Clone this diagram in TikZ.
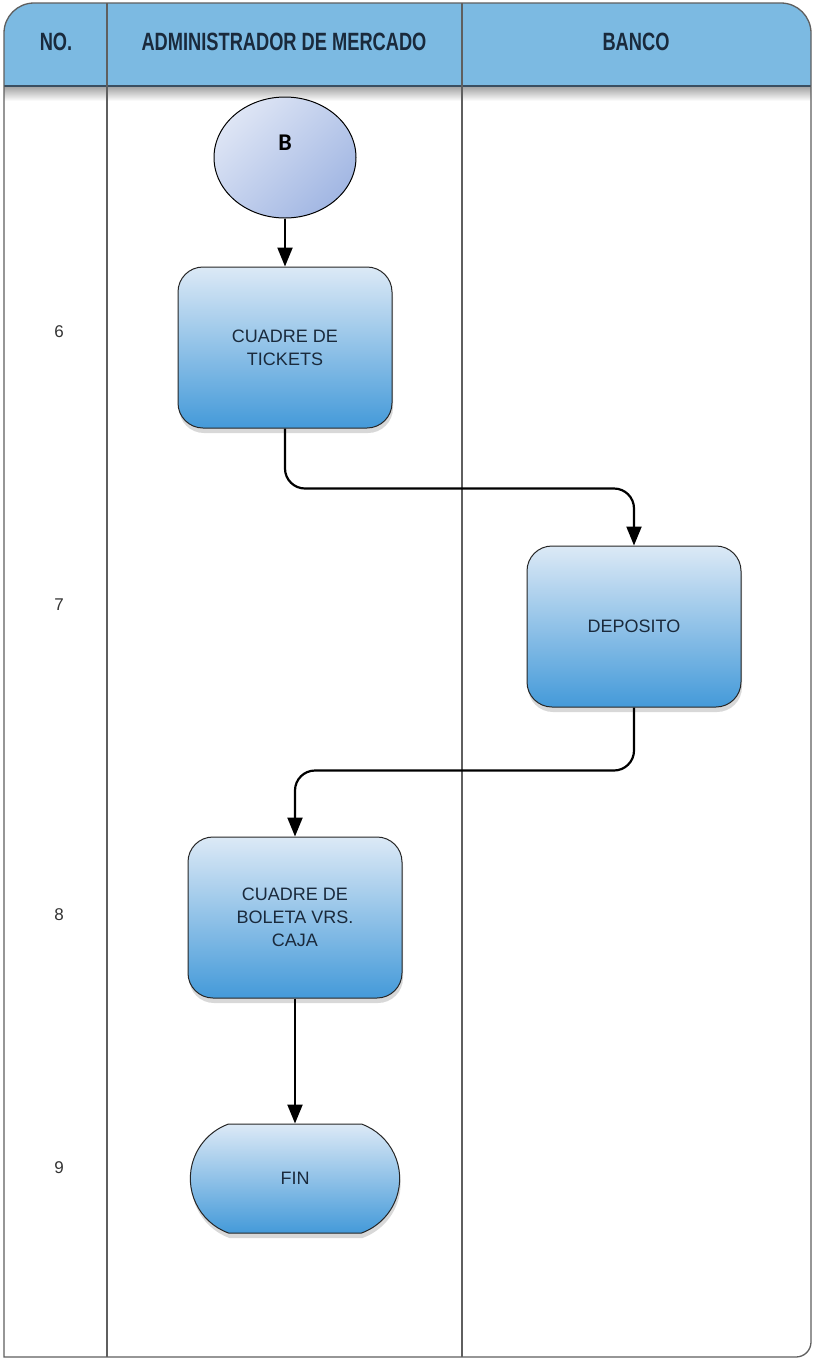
\documentclass[tikz,border=0pt]{standalone}
\usepackage{fontspec}
\setmainfont{Liberation Sans}
\newfontfamily\headfont[FakeStretch=0.73]{Liberation Sans}
\newfontfamily\carlito{Carlito}
\usetikzlibrary{
	arrows.meta,
	shapes.geometric,
	shapes.misc,
	shadows,
	positioning,
	calc
}
\definecolor{hdrblue}{RGB}{124,186,226}
\definecolor{hdrline}{RGB}{58,78,96}
\definecolor{boxtop}{RGB}{220,233,246}
\definecolor{boxbot}{RGB}{68,154,217}
\definecolor{circtop}{RGB}{222,229,245}
\definecolor{circbot}{RGB}{162,183,227}
\definecolor{txtdark}{RGB}{26,42,60}
\definecolor{framegray}{RGB}{95,95,95}

\tikzset{
	procbox/.style={draw=black!85, line width=1pt, rounded corners=25pt,
		minimum width=214pt, minimum height=161pt,
		top color=boxtop, bottom color=boxbot,
		drop shadow={opacity=0.3, shadow xshift=1pt, shadow yshift=-5pt},
		align=center, text=txtdark, font=\fontsize{18}{23}\selectfont},
	endbox/.style={draw=black!85, line width=1pt, rounded rectangle,
		rounded rectangle arc length=140,
		minimum width=216pt, minimum height=109pt,
		top color=boxtop, bottom color=boxbot,
		drop shadow={opacity=0.3, shadow xshift=1pt, shadow yshift=-5pt},
		text=txtdark, font=\fontsize{18}{23}\selectfont},
	startcirc/.style={draw=black, line width=1pt, ellipse,
		minimum width=142pt, minimum height=121pt,
		top color=circtop, bottom color=circbot, shading angle=45},
	conn/.style={line width=2.2pt, rounded corners=20pt,
		-{Triangle[length=19pt,width=15pt]}},
	hdr/.style={text=txtdark, font=\headfont\bfseries\fontsize{25}{28}\selectfont},
	rownum/.style={text=black!80, font=\fontsize{17}{19}\selectfont}
}

\begin{document}
\begin{tikzpicture}[x=1pt, y=-1pt]

	\useasboundingbox[fill=white] (0,0) rectangle (815,1361);

	% header band
	\fill[hdrblue] (4,86) [rounded corners=30pt] -- (4,3) -- (811,3) [sharp corners] -- (811,86) -- cycle;
	\shade[top color=black!35, bottom color=white] (4,87) rectangle (811,101);
	\draw[hdrline, line width=2.5pt] (4,86) -- (811,86);

	% frame and lanes
	\draw[framegray, line width=1.3pt] (400,1357) -- (4,1357) -- (4,800) [rounded corners=30pt] -- (4,3) -- (811,3) -- (811,800) [rounded corners=15pt] -- (811,1357) -- cycle;
	\foreach \x in {107, 462}{
		\draw[framegray, line width=1.3pt] (\x,3) -- (\x,1357);
	}

	\node[hdr] (hNo)  at (56,41.5)  {NO.};
	\node[hdr] (hAdm) at (284,41.5) {ADMINISTRADOR DE MERCADO};
	\node[hdr] (hBan) at (636,41.5) {BANCO};

	\foreach \n/\y in {6/332, 7/605, 8/915, 9/1168}{
		\node[rownum] (row\n) at (59,\y) {\n};
	}

	% shapes
	\node[startcirc] (conB) at (285,157.5) {};
	\node[text=black, font=\carlito\bfseries\fontsize{24}{24}\selectfont] (labB) at ([yshift=15pt]conB.center) {B};

	\node[procbox] (cuaT) at (285,347.5) {CUADRE DE\\TICKETS};
	\node[procbox] (dep) at (634,626.5) {DEPOSITO};
	\node[procbox] (bol) at (295,917.5) {CUADRE DE\\BOLETA VRS.\\CAJA};
	\node[endbox] (fin) at (295,1178.5) {FIN};

	% connectors
	\draw[conn] (conB.south) -- (cuaT.north);
	\draw[conn] (cuaT.south) -- ++(0,60) -| (dep.north);
	\draw[conn] (dep.south) -- ++(0,63) -| (bol.north);
	\draw[conn] (bol.south) -- (fin.north);

\end{tikzpicture}
\end{document}
